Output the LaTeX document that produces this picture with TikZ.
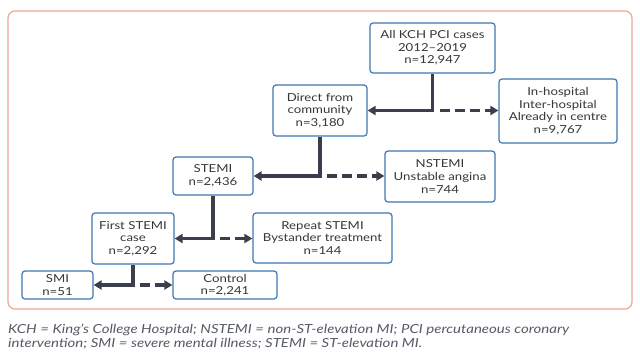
\documentclass[tikz,border=0pt]{standalone}
\usepackage{fontspec}
\setmainfont{Lato}[FakeStretch=1.2]
\usepackage{xcolor}
\usepackage{tikz}
\usetikzlibrary{arrows.meta,positioning,calc}
\definecolor{boxblue}{RGB}{63,119,176}
\definecolor{linegray}{RGB}{58,63,75}
\definecolor{frameorange}{RGB}{240,165,148}
\definecolor{txtgray}{RGB}{55,55,58}
\definecolor{notegray}{RGB}{85,90,100}
\tikzset{
  box/.style={rectangle, draw=boxblue, line width=1.2pt, rounded corners=3pt, align=center,
              fill=white, text=txtgray, font=\fontsize{11}{12.6}\selectfont, inner sep=0pt},
  keep/.style={-{Triangle[length=8pt,width=9pt]}, draw=linegray, line width=3.5pt},
  drop/.style={keep, dash pattern=on 10pt off 5pt, dash phase=10pt},
  frm/.style={draw=frameorange, line width=1.2pt, rounded corners=7pt},
  note/.style={align=left, text=notegray, inner sep=0pt,
               font=\fontsize{12.5}{14}\selectfont\itshape},
}

\begin{document}
\begin{tikzpicture}[x=1pt, y=-1pt]
\useasboundingbox (0,0) rectangle (640,360);
\draw[frm] (8,11) rectangle (632,309);

\node[box, minimum width=125pt, minimum height=50pt] (kch) at (432.5,48) {All KCH PCI cases\\2012--2019\\n=12,947};
\node[box, minimum width=94pt, minimum height=51pt] (direct) at (320,110.5) {Direct from\\community\\n=3,180};
\node[box, minimum width=118pt, minimum height=64pt] (inhosp) at (558,111) {In-hospital\\Inter-hospital\\Already in centre\\n=9,767};
\node[box, minimum width=80pt, minimum height=38pt] (stemi) at (213,176) {STEMI\\n=2,436};
\node[box, minimum width=110pt, minimum height=51pt] (nstemi) at (440,176.5) {NSTEMI\\Unstable angina\\n=744};
\node[box, minimum width=82pt, minimum height=51pt] (first) at (133,238.5) {First STEMI\\case\\n=2,292};
\node[box, minimum width=139pt, minimum height=50pt] (repeat) at (322.5,238) {Repeat STEMI\\Bystander treatment\\n=144};
\node[box, minimum width=71pt, minimum height=28pt] (smi) at (57.5,285) {SMI\\n=51};
\node[box, minimum width=104pt, minimum height=28pt] (control) at (225,285) {Control\\n=2,241};

% split points
\coordinate (jA) at (kch.south |- direct.east);
\coordinate (jB) at (direct.south |- stemi.east);
\coordinate (jC) at (stemi.south |- first.east);
\coordinate (jD) at (first.south |- smi.east);

\draw[keep] (kch.south) |- (direct.east);
\draw[drop] ([xshift=2pt]jA) -- (jA -| inhosp.west);
\draw[keep] (direct.south) |- (stemi.east);
\draw[drop] ([xshift=2pt]jB) -- (jB -| nstemi.west);
\draw[keep] (stemi.south) |- (first.east);
\draw[drop] ([xshift=2pt]jC) -- (jC -| repeat.west);
\draw[keep] (first.south) |- (smi.east);
\draw[drop] ([xshift=2pt]jD) -- (jD -| control.west);

\node[note, anchor=base west] (legend) at (8,347) {KCH = King's College Hospital; NSTEMI = non-ST-elevation MI; PCI percutaneous coronary\\intervention; SMI = severe mental illness; STEMI = ST-elevation MI.};
\end{tikzpicture}
\end{document}
